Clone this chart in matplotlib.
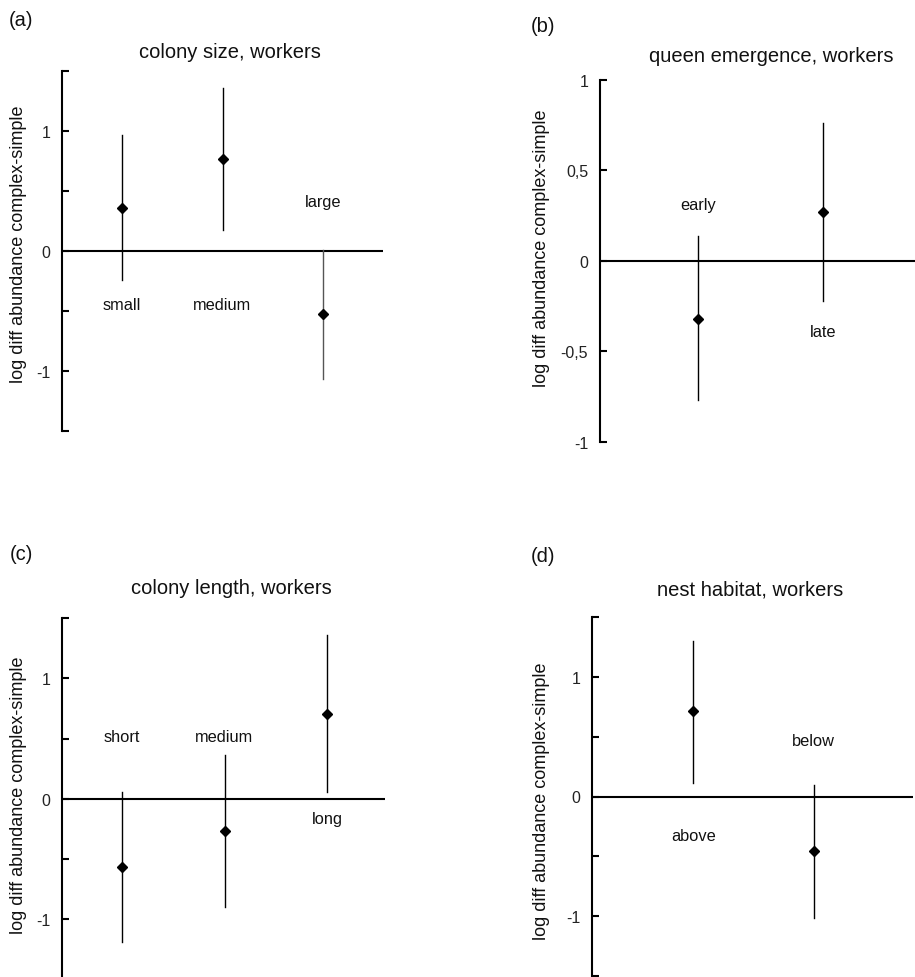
import matplotlib
matplotlib.use("Agg")
import matplotlib.pyplot as plt
from matplotlib.ticker import FixedLocator

plt.rcParams['font.family'] = ['Liberation Sans', 'DejaVu Sans']

# ---------------- data ----------------
cats_a = ['small', 'medium', 'large']
mean_a = [0.36, 0.77, -0.525]
lo_a = [-0.24, 0.175, -1.07]
hi_a = [0.97, 1.36, 0.01]

cats_b = ['early', 'late']
mean_b = [-0.32, 0.267]
lo_b = [-0.77, -0.224]
hi_b = [0.135, 0.76]

cats_c = ['short', 'medium', 'long']
mean_c = [-0.563, -0.267, 0.70]
lo_c = [-1.19, -0.90, 0.053]
hi_c = [0.06, 0.367, 1.36]

cats_d = ['above', 'below']
mean_d = [0.715, -0.457]
lo_d = [0.115, -1.015]
hi_d = [1.30, 0.092]

titles = ['colony size, workers', 'queen emergence, workers',
          'colony length, workers', 'nest habitat, workers']
panel_tags = ['(a)', '(b)', '(c)', '(d)']
ylabel = 'log diff abundance complex-simple'

ticks_15 = [-1.5, -1, -0.5, 0, 0.5, 1, 1.5]
ticklabels_15 = ['', '-1', '', '0', '', '1', '']
ticks_1 = [-1, -0.5, 0, 0.5, 1]
ticklabels_1 = ['-1', '-0,5', '0', '0,5', '1']

# category label placement (y in data units)
lab_y_a = [-0.45, -0.45, 0.41]
lab_y_b = [0.31, -0.39]
lab_y_c = [0.52, 0.52, -0.167]
lab_y_d = [-0.33, 0.47]

# ---------------- layout ----------------
W, H = 915, 978
fig = plt.figure(figsize=(W / 100, H / 100), dpi=100)


def add_ax(l, t, r, b):
    return fig.add_axes([l / W, 1 - b / H, (r - l) / W, (b - t) / H])


def panel(ax, cats, mean, lo, hi, laby, xlim, ylim, ticks, ticklabels,
          bar_colors=None):
    x = list(range(1, len(cats) + 1))
    if bar_colors is None:
        bar_colors = ['black'] * len(cats)
    ax.axhline(0, color='black', lw=1.5, zorder=1)
    for xi, m, l, h, c in zip(x, mean, lo, hi, bar_colors):
        ax.plot([xi, xi], [l, h], color=c, lw=1.0, zorder=2)
        ax.plot([xi], [m], marker='D', ms=4.8, color='black', zorder=3)
    for xi, name, yy in zip(x, cats, laby):
        ax.text(xi, yy, name, ha='center', va='center', fontsize=11.8,
                color='#111111')
    ax.set_xlim(*xlim)
    ax.set_ylim(*ylim)
    for s in ['top', 'right', 'bottom']:
        ax.spines[s].set_visible(False)
    ax.spines['left'].set_linewidth(1.5)
    ax.set_xticks([])
    ax.yaxis.set_major_locator(FixedLocator(ticks))
    ax.set_yticklabels(ticklabels)
    ax.tick_params(axis='y', direction='in', length=5, width=1.5,
                   pad=8.5, labelsize=11.5, labelcolor='#222222')
    ax.patch.set_visible(False)


ax_a = add_ax(62, 72, 383, 432)
panel(ax_a, cats_a, mean_a, lo_a, hi_a, lab_y_a, (0.4, 3.6), (-1.5, 1.5),
      ticks_15, ticklabels_15, bar_colors=['black', 'black', '#555555'])

ax_b = add_ax(600, 80.7, 915, 442.7)
panel(ax_b, cats_b, mean_b, lo_b, hi_b, lab_y_b, (0.214, 2.732), (-1, 1),
      ticks_1, ticklabels_1)

ax_c = add_ax(62, 619, 385, 980.7)
panel(ax_c, cats_c, mean_c, lo_c, hi_c, lab_y_c, (0.42, 3.56), (-1.5, 1.5),
      ticks_15, ticklabels_15)

ax_d = add_ax(592.3, 618, 913, 977)
panel(ax_d, cats_d, mean_d, lo_d, hi_d, lab_y_d, (0.16, 2.825), (-1.5, 1.5),
      ticks_15, ticklabels_15)

# titles, tags, y labels (pixel centres)
title_pos = [(230, 53), (771.7, 56.7), (231, 589), (750, 590)]
tag_pos = [(21, 21), (543, 27), (21, 555), (543.3, 556.7)]
ylab_pos = [(19, 244.7), (541.7, 248.5), (19, 794.8), (541.7, 801.7)]

for t, (x, y) in zip(titles, title_pos):
    fig.text(x / W, 1 - y / H, t, ha='center', va='center', fontsize=14.5,
             color='#111111')
for t, (x, y) in zip(panel_tags, tag_pos):
    fig.text(x / W, 1 - y / H, t, ha='center', va='center', fontsize=14.5,
             color='#111111')
for (x, y) in ylab_pos:
    fig.text(x / W, 1 - y / H, ylabel, rotation=90, ha='center', va='center',
             fontsize=13, color='#111111')

fig.savefig('out.png', dpi=100)
